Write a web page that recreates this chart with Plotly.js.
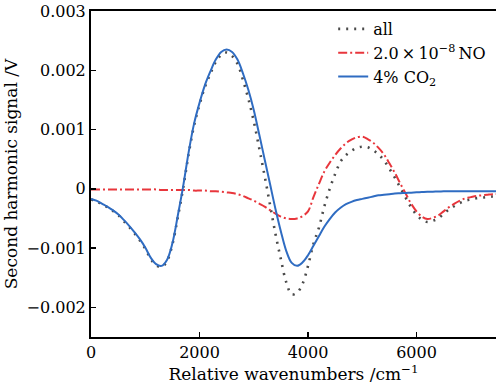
<!DOCTYPE html>
<html>
<head>
<meta charset="utf-8">
<script src="https://cdn.plot.ly/plotly-3.0.1.min.js"></script>
<style>html,body{margin:0;padding:0;background:#fff;}#chart{width:496px;height:389px;}</style>
</head>
<body>
<div id="chart"></div>
<script>
// Relative wavenumber grid (cm^-1)
const wavenumbers = [0,100,200,300,400,500,600,700,800,900,1000,1100,1200,1300,1400,1500,1600,1700,1800,1900,2000,2100,2200,2300,2400,2500,2600,2700,2800,2900,3000,3100,3200,3300,3400,3500,3600,3700,3800,3900,4000,4100,4200,4300,4400,4500,4600,4700,4800,4900,5000,5100,5200,5300,5400,5500,5600,5700,5800,5900,6000,6100,6200,6300,6400,6500,6600,6700,6800,6900,7000,7100,7200,7300,7400,7500];

// "all" (dotted grey)
const allSignal = [-0.00018,-0.00021,-0.00026,-0.00031,-0.00037,-0.00044,-0.00054,-0.00064,-0.00075,-0.00087,-0.00101,-0.00118,-0.00129,-0.00132,-0.00122,-0.00094,-0.00048,0.00002,0.00059,0.00107,0.00142,0.00172,0.00194,0.00214,0.00226,0.0023,0.00224,0.00211,0.00184,0.00152,0.00114,0.00069,0.00022,-0.00027,-0.00076,-0.00119,-0.00158,-0.00178,-0.00175,-0.00160,-0.00130,-0.00093,-0.00066,-0.00030,0.0,0.00025,0.00046,0.00057,0.00064,0.00069,0.00071,0.0007,0.00065,0.00058,0.00048,0.00034,0.00019,0.00002,-0.00015,-0.00031,-0.00044,-0.00052,-0.00056,-0.00054,-0.0005,-0.00042,-0.00035,-0.00029,-0.00024,-0.0002,-0.00018,-0.00016,-0.00015,-0.00014,-0.00013,-0.00013];

// 2.0x10^-8 NO (red dash-dot)
const noSignal = [-0.00001,-0.00001,-0.00001,-0.00001,-0.00001,-0.00001,-0.00001,-0.00001,-0.00001,-0.00001,-0.00001,-0.00001,-0.00001,-0.00002,-0.00002,-0.00002,-0.00002,-0.00002,-0.00002,-0.00003,-0.00003,-0.00003,-0.00004,-0.00004,-0.00005,-0.00006,-0.00007,-0.00009,-0.00012,-0.00016,-0.0002,-0.00025,-0.0003,-0.00036,-0.00042,-0.00047,-0.0005,-0.00051,-0.0005,-0.00046,-0.00038,-0.00014,0.00008,0.00029,0.00044,0.00057,0.00068,0.00077,0.00083,0.00087,0.00088,0.00084,0.00078,0.00069,0.00058,0.00043,0.00027,0.00009,-0.00008,-0.00025,-0.00038,-0.00047,-0.00051,-0.00049,-0.00045,-0.00038,-0.00031,-0.00025,-0.0002,-0.00016,-0.00014,-0.00012,-0.00011,-0.0001,-0.00009,-0.00009];

// 4% CO2 (blue solid)
const co2Signal = [-0.00017,-0.0002,-0.00025,-0.0003,-0.00036,-0.00043,-0.00052,-0.00062,-0.00073,-0.00085,-0.00099,-0.00116,-0.00127,-0.0013,-0.0012,-0.00092,-0.00045,0.00005,0.00062,0.0011,0.00145,0.00175,0.00198,0.00218,0.00231,0.00235,0.00231,0.00218,0.00195,0.00167,0.00133,0.00092,0.0005,0.00008,-0.00034,-0.00072,-0.00105,-0.00125,-0.0013,-0.00124,-0.00112,-0.00096,-0.0008,-0.00064,-0.00051,-0.0004,-0.00032,-0.00026,-0.00022,-0.00019,-0.00017,-0.00015,-0.00013,-0.00011,-0.0001,-0.00009,-0.00008,-0.000075,-0.00007,-0.000065,-0.00006,-0.000055,-0.00005,-0.000048,-0.000045,-0.000043,-0.00004,-0.00004,-0.00004,-0.00004,-0.00004,-0.00004,-0.00004,-0.00004,-0.00004,-0.00004];

const seriesNames = ['all', '2.0\u2009×\u200910<sup>−8</sup>\u2009NO', '4% CO<sub>2</sub>'];
const yTickVals = [-0.002,-0.001,0,0.001,0.002,0.003];
const yTickText = ['−0.002','−0.001','0','0.001','0.002','0.003'];
const xTickVals = [0,2000,4000,6000];
const xTickText = ['0','2000','4000','6000'];

const FONT = 'DejaVu Serif, serif';

const traces = [
  {x: wavenumbers, y: allSignal, name: seriesNames[0], mode: 'lines', line: {color: '#4a4a4a', width: 2.6, dash: '2px,6px', shape: 'spline'}},
  {x: wavenumbers, y: noSignal, name: seriesNames[1], mode: 'lines', line: {color: '#e8363c', width: 2, dash: '9px,3px,2px,3px', shape: 'spline'}},
  {x: wavenumbers, y: co2Signal, name: seriesNames[2], mode: 'lines', line: {color: '#2f6cc2', width: 2, shape: 'spline'}}
];

const layout = {
  width: 496, height: 389,
  margin: {l: 91, r: 0, t: 11, b: 52},
  paper_bgcolor: '#fff', plot_bgcolor: '#fff',
  font: {family: FONT, size: 15, color: '#000'},
  showlegend: true,
  legend: {x: 0.598, y: 0.997, xanchor: 'left', yanchor: 'top', bgcolor: 'rgba(0,0,0,0)', font: {family: FONT, size: 16, color: '#000'}, tracegroupgap: 0, itemwidth: 30},
  xaxis: {
    range: [0, 7465], tickvals: xTickVals, ticktext: xTickText,
    ticks: 'inside', ticklen: 5, tickwidth: 1.5, tickcolor: '#000',
    showline: true, linecolor: '#000', linewidth: 2, mirror: true,
    showgrid: false, zeroline: false,
    tickfont: {family: FONT, size: 16, color: '#000'},
    title: {text: 'Relative wavenumbers /cm<sup>−1</sup>', font: {family: FONT, size: 17, color: '#000'}, standoff: 4}
  },
  yaxis: {
    range: [-0.0025, 0.003], tickvals: yTickVals, ticktext: yTickText,
    ticks: 'inside', ticklen: 5, tickwidth: 1.5, tickcolor: '#000',
    showline: true, linecolor: '#000', linewidth: 2, mirror: false,
    showgrid: false, zeroline: false,
    tickfont: {family: FONT, size: 16, color: '#000'},
    title: {text: 'Second harmonic signal /V', font: {family: FONT, size: 17, color: '#000'}, standoff: 5}
  }
};

Plotly.newPlot('chart', traces, layout, {displayModeBar: false, staticPlot: true});
</script>
</body>
</html>
